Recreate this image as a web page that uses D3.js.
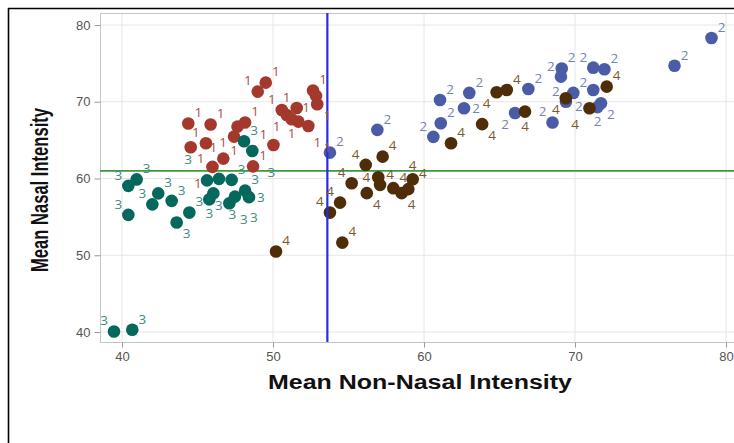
<!DOCTYPE html>
<html>
<head>
<meta charset="utf-8">
<script src="https://cdn.jsdelivr.net/npm/d3@7/dist/d3.min.js"></script>
<style>
html,body{margin:0;padding:0;background:#fff;}
svg{display:block;}
</style>
</head>
<body>
<svg id="chart" width="734" height="443"></svg>
<script>
// ---- data ----
const categories = ["1", "2", "3", "4"];
const xTicks = [40, 50, 60, 70, 80];
const yTicks = [40, 50, 60, 70, 80];
const refX = 53.6;   // vertical reference line (Mean Non-Nasal)
const refY = 61.0;   // horizontal reference line (Mean Nasal)

const group1X = [49.52, 48.99, 52.65, 52.85, 52.93, 50.58, 50.91, 51.57, 51.24, 51.68, 52.34,
                 44.39, 45.87, 48.15, 47.65, 47.42, 45.56, 44.55, 50.03, 46.71, 45.99, 48.68];
const group1Y = [72.49, 71.32, 71.47, 70.76, 69.67, 68.93, 68.28, 69.19, 67.72, 67.41, 66.85,
                 67.17, 67.04, 67.30, 66.76, 65.46, 64.60, 64.08, 64.37, 62.59, 61.51, 61.58];

const group2X = [61.06, 61.11, 60.62, 63.00, 62.65, 66.03, 66.91, 69.12, 69.07, 68.51, 69.89,
                 69.40, 71.21, 71.95, 71.21, 71.72, 71.49, 76.59, 79.04, 56.91, 53.77];
const group2Y = [70.23, 67.20, 65.42, 71.15, 69.15, 68.54, 71.67, 74.34, 73.27, 67.30, 71.15,
                 70.01, 74.44, 74.23, 71.54, 69.80, 69.30, 74.70, 78.31, 66.33, 63.37];

const group3X = [40.97, 40.42, 42.40, 42.01, 43.29, 40.42, 43.62, 44.46, 45.63, 46.42, 47.26,
                 46.05, 45.78, 47.11, 47.48, 48.15, 48.41, 48.08, 48.63, 39.47, 40.68];
const group3Y = [59.88, 59.04, 58.06, 56.63, 57.08, 55.26, 54.26, 55.56, 59.75, 59.95, 59.82,
                 58.06, 57.28, 56.78, 57.64, 58.42, 57.57, 64.86, 63.59, 40.06, 40.29];

const group4X = [57.26, 56.14, 56.97, 57.09, 55.21, 56.21, 57.97, 58.52, 58.96, 59.25, 54.44,
                 53.77, 54.59, 50.20, 64.81, 65.48, 66.69, 63.85, 61.79, 69.39, 70.96, 72.10];
const group4Y = [62.85, 61.77, 60.17, 59.17, 59.39, 58.09, 58.74, 58.09, 58.61, 59.91, 56.86,
                 55.56, 51.65, 50.48, 71.24, 71.54, 68.71, 67.08, 64.60, 70.46, 69.15, 71.97];

const seriesX = [group1X, group2X, group3X, group4X];
const seriesY = [group1Y, group2Y, group3Y, group4Y];

// ---- styles ----
const markerColor = {"1": "#a5382d", "2": "#4a5ca6", "3": "#04685c", "4": "#4f2d08"};
const labelColor  = {"1": "#a8524a", "2": "#7483b5", "3": "#3f8c82", "4": "#7a5a2a"};

const svg = d3.select("#chart");
const W = 734, H = 443;

const plotL = 100, plotT = 13, plotR = 737, plotB = 342;

const x = d3.scaleLinear().domain([40, 80]).range([122, 726]);
const y = d3.scaleLinear().domain([40, 80]).range([332, 25]);

// outer screenshot frame
svg.append("rect").attr("x", 0).attr("y", 0).attr("width", W).attr("height", H).attr("fill", "#fff");
svg.append("line").attr("x1", 8).attr("x2", W).attr("y1", 8.5).attr("y2", 8.5)
  .attr("stroke", "#000").attr("stroke-width", 1.6);
svg.append("line").attr("x1", 8.5).attr("x2", 8.5).attr("y1", 8).attr("y2", H)
  .attr("stroke", "#000").attr("stroke-width", 1.6);

// grid
const grid = svg.append("g");
grid.selectAll(".gx").data(xTicks).join("line")
  .attr("x1", d => x(d)).attr("x2", d => x(d)).attr("y1", plotT).attr("y2", plotB)
  .attr("stroke", "#e6e6e6").attr("stroke-width", 1);
grid.selectAll(".gy").data(yTicks).join("line")
  .attr("x1", plotL).attr("x2", plotR).attr("y1", d => y(d)).attr("y2", d => y(d))
  .attr("stroke", "#e6e6e6").attr("stroke-width", 1);

// plot border
svg.append("rect").attr("x", plotL + 0.5).attr("y", plotT + 0.5)
  .attr("width", plotR - plotL).attr("height", plotB - plotT)
  .attr("fill", "none").attr("stroke", "#c4c4c4").attr("stroke-width", 1);

// axes
const xAxis = d3.axisBottom(x).tickValues(xTicks).tickSize(5).tickPadding(4).tickFormat(d3.format("d"));
const gx = svg.append("g").attr("transform", `translate(0,${plotB + 0.5})`).call(xAxis);
gx.select(".domain").remove();
gx.selectAll(".tick line").attr("stroke", "#999");
gx.selectAll(".tick text").attr("fill", "#555").attr("font-size", 13)
  .attr("font-family", "'Liberation Sans', Arial, sans-serif");

const yAxis = d3.axisLeft(y).tickValues(yTicks).tickSize(6).tickPadding(4).tickFormat(d3.format("d"));
const gy = svg.append("g").attr("transform", `translate(${plotL + 0.5},0)`).call(yAxis);
gy.select(".domain").remove();
gy.selectAll(".tick line").attr("stroke", "#999");
gy.selectAll(".tick text").attr("fill", "#555").attr("font-size", 13)
  .attr("font-family", "'Liberation Sans', Arial, sans-serif");

// axis titles
svg.append("text").attr("x", 420).attr("y", 389).attr("text-anchor", "middle")
  .attr("font-family", "'Liberation Sans', Arial, sans-serif").attr("font-weight", "bold")
  .attr("font-size", 19.5).attr("fill", "#111")
  .attr("textLength", 304).attr("lengthAdjust", "spacingAndGlyphs")
  .text("Mean Non-Nasal Intensity");

svg.append("text").attr("transform", "translate(48,190) rotate(-90)").attr("text-anchor", "middle")
  .attr("font-family", "'Liberation Sans Narrow', 'Arial Narrow', 'Liberation Sans', sans-serif")
  .attr("font-weight", "bold").attr("font-size", 23).attr("fill", "#111")
  .attr("textLength", 164).attr("lengthAdjust", "spacingAndGlyphs")
  .text("Mean Nasal Intensity");

// points
const pts = [];
categories.forEach((c, i) => {
  seriesX[i].forEach((vx, j) => pts.push({cat: c, vx: vx, vy: seriesY[i][j]}));
});
pts.forEach(p => { p.cx = x(p.vx); p.cy = y(p.vy); });

const R = 6.3;

svg.append("line").attr("x1", plotL).attr("x2", plotR).attr("y1", y(refY)).attr("y2", y(refY))
  .attr("stroke", "#3c9a3c").attr("stroke-width", 1.6);

svg.append("g").selectAll("circle").data(pts).join("circle")
  .attr("cx", d => d.cx).attr("cy", d => d.cy).attr("r", R)
  .attr("fill", d => markerColor[d.cat]);

svg.append("line").attr("x1", x(refX)).attr("x2", x(refX)).attr("y1", plotT).attr("y2", plotB)
  .attr("stroke", "#2b2be0").attr("stroke-width", 2.2);

// label placement (greedy collision avoidance)
const cands = [];
[[10, -11], [-10, -11], [10, 11], [-10, 11], [12, 0], [-12, 0], [0, -14], [0, 14]].forEach(o => cands.push(o));
[1.45, 1.9].forEach(f => {
  [[10, -11], [-10, -11], [10, 11], [-10, 11], [12, 0], [-12, 0], [0, -14], [0, 14]]
    .forEach(o => cands.push([o[0] * f, o[1] * f]));
});
const hw = 4.6, hh = 8.5;
const placed = [];
function overlap(a, b) {
  const ox = Math.min(a.x2, b.x2) - Math.max(a.x1, b.x1);
  const oy = Math.min(a.y2, b.y2) - Math.max(a.y1, b.y1);
  return (ox > 0 && oy > 0) ? ox * oy : 0;
}
const markerBoxes = pts.map(p => ({x1: p.cx - R + 1.5, x2: p.cx + R - 1.5, y1: p.cy - R + 1.5, y2: p.cy + R - 1.5}));
pts.forEach(p => {
  let best = null, bestScore = Infinity;
  cands.forEach((o, k) => {
    const bx = p.cx + o[0], by = p.cy + o[1];
    const box = {x1: bx - hw, x2: bx + hw, y1: by - hh, y2: by + hh};
    let s = 0;
    markerBoxes.forEach(m => s += overlap(box, m));
    placed.forEach(m => s += overlap(box, m) * 60);
    s += k * 0.8;
    if (s < bestScore) { bestScore = s; best = box; }
  });
  placed.push(best);
  p.lx = (best.x1 + best.x2) / 2; p.ly = (best.y1 + best.y2) / 2;
});

svg.append("g").selectAll("text").data(pts).join("text")
  .attr("x", d => d.lx).attr("y", d => d.ly).attr("dy", "0.36em")
  .attr("text-anchor", "middle")
  .attr("font-family", "'Open Sans', 'DejaVu Sans', sans-serif").attr("font-size", 13.5)
  .attr("fill", d => labelColor[d.cat])
  .text(d => d.cat);
</script>
</body>
</html>
